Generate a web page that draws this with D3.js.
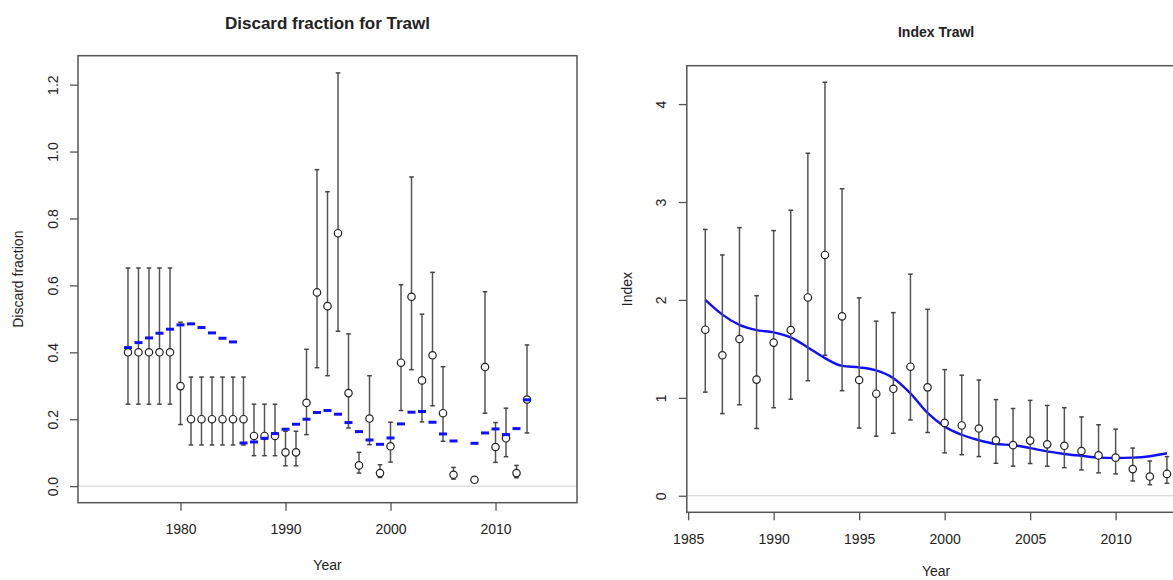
<!DOCTYPE html>
<html>
<head>
<meta charset="utf-8">
<script src="https://cdn.jsdelivr.net/npm/d3@7"></script>
<style>
  body { margin: 0; background: #fff; }
  text { font-family: "Liberation Sans", Arial, sans-serif; fill: #222; }
</style>
</head>
<body>
<svg id="canvas"></svg>
<script>
// ---- discard fraction data (left panel) ----
const discardYears = [
  1975, 1976, 1977, 1978, 1979, 1980, 1981, 1982, 1983, 1984, 1985, 1986, 1987,
  1988, 1989, 1990, 1991, 1992, 1993, 1994, 1995, 1996, 1997, 1998, 1999, 2000,
  2001, 2002, 2003, 2004, 2005, 2006, 2008, 2009, 2010, 2011, 2012, 2013,
];
const discardObs = [
  0.4, 0.4, 0.4, 0.4, 0.4, 0.299, 0.2, 0.2, 0.2, 0.2, 0.2, 0.2, 0.15,
  0.15, 0.15, 0.101, 0.101, 0.249, 0.579, 0.538, 0.756, 0.278, 0.062, 0.202, 0.039, 0.119,
  0.369, 0.566, 0.316, 0.391, 0.218, 0.034, 0.019, 0.356, 0.117, 0.143, 0.039, 0.259,
];
const discardLo = [
  0.245, 0.245, 0.245, 0.245, 0.245, 0.184, 0.123, 0.123, 0.123, 0.123, 0.123, 0.123, 0.091,
  0.091, 0.091, 0.061, 0.061, 0.154, 0.354, 0.33, 0.463, 0.174, 0.039, 0.124, 0.026, 0.072,
  0.226, 0.348, 0.192, 0.24, 0.134, 0.021, 0.013, 0.218, 0.071, 0.088, 0.025, 0.159,
];
const discardHi = [
  0.652, 0.652, 0.652, 0.652, 0.652, 0.49, 0.326, 0.326, 0.326, 0.326, 0.326, 0.326, 0.245,
  0.245, 0.245, 0.164, 0.164, 0.409, 0.946, 0.88, 1.235, 0.455, 0.101, 0.33, 0.064, 0.191,
  0.602, 0.924, 0.514, 0.639, 0.357, 0.056, 0.027, 0.581, 0.19, 0.233, 0.062, 0.422,
];
const discardExp = [
  0.414, 0.429, 0.443, 0.457, 0.469, 0.482, 0.485, 0.474, 0.458, 0.442, 0.431, 0.129, 0.132,
  0.143, 0.157, 0.17, 0.185, 0.2, 0.22, 0.226, 0.215, 0.19, 0.163, 0.138, 0.125, 0.144,
  0.186, 0.221, 0.223, 0.191, 0.156, 0.135, 0.128, 0.159, 0.171, 0.154, 0.172, 0.258,
];

// ---- index data (right panel) ----
const indexYears = [
  1986, 1987, 1988, 1989, 1990, 1991, 1992, 1993, 1994, 1995, 1996, 1997, 1998, 1999,
  2000, 2001, 2002, 2003, 2004, 2005, 2006, 2007, 2008, 2009, 2010, 2011, 2012, 2013,
];
const indexObs = [
  1.696, 1.435, 1.601, 1.186, 1.564, 1.692, 2.025, 2.459, 1.832, 1.182, 1.042, 1.092, 1.318, 1.107,
  0.744, 0.718, 0.687, 0.567, 0.517, 0.563, 0.525, 0.51, 0.457, 0.412, 0.389, 0.272, 0.196, 0.223,
];
const indexLo = [
  1.058, 0.839, 0.929, 0.687, 0.899, 0.986, 1.175, 1.435, 1.073, 0.691, 0.608, 0.638, 0.774, 0.646,
  0.438, 0.419, 0.4, 0.332, 0.302, 0.329, 0.302, 0.287, 0.264, 0.234, 0.223, 0.151, 0.113, 0.128,
];
const indexHi = [
  2.72, 2.459, 2.738, 2.043, 2.708, 2.916, 3.498, 4.223, 3.135, 2.021, 1.783, 1.87, 2.263, 1.904,
  1.288, 1.231, 1.182, 0.982, 0.891, 0.974, 0.922, 0.899, 0.805, 0.725, 0.68, 0.487, 0.355, 0.4,
];
const indexFit = [
  2.0, 1.85, 1.745, 1.692, 1.669, 1.617, 1.515, 1.405, 1.326, 1.311, 1.28, 1.201, 1.046, 0.846,
  0.706, 0.623, 0.567, 0.529, 0.517, 0.487, 0.453, 0.427, 0.408, 0.389, 0.385, 0.389, 0.404, 0.434,
];

const discardXTicks = [1980, 1990, 2000, 2010];
const discardYTicks = [0, 0.2, 0.4, 0.6, 0.8, 1.0, 1.2];
const indexXTicks = [1985, 1990, 1995, 2000, 2005, 2010];
const indexYTicks = [0, 1, 2, 3, 4];

const width = 1173;
const height = 580;

const canvas = d3.select("#canvas").attr("width", width).attr("height", height);

const makeRows = (years, obs, lo, hi, model) =>
  years.map((y, i) => ({ year: y, obs: obs[i], lo: lo[i], hi: hi[i], model: model[i] }));

// one R-style panel: box, axes, zero line, error bars, open circles
const drawPanel = (cfg) => {
  const g = canvas.append("g");
  const xScale = d3.scaleLinear().domain(cfg.xDomain).range([cfg.left, cfg.right]);
  const yScale = d3.scaleLinear().domain(cfg.yDomain).range([cfg.bottom, cfg.top]);
  const rows = cfg.rows;

  // light zero reference line
  g.append("line")
    .attr("x1", cfg.left)
    .attr("x2", cfg.right)
    .attr("y1", yScale(0))
    .attr("y2", yScale(0))
    .attr("stroke", "#d0d0d0")
    .attr("stroke-width", 1);

  if (cfg.fitLine) {
    const line = d3
      .line()
      .x((d) => xScale(d.year))
      .y((d) => yScale(d.model))
      .curve(d3.curveMonotoneX);
    g.append("path")
      .datum(rows)
      .attr("d", line)
      .attr("fill", "none")
      .attr("stroke", "#1010ff")
      .attr("stroke-width", 2.4);
  }

  const bars = g.selectAll(".bar").data(rows).enter().append("g").attr("class", "bar");
  bars
    .append("line")
    .attr("x1", (d) => xScale(d.year))
    .attr("x2", (d) => xScale(d.year))
    .attr("y1", (d) => yScale(d.lo))
    .attr("y2", (d) => yScale(d.hi))
    .attr("stroke", "#555")
    .attr("stroke-width", 1.5);
  ["lo", "hi"].forEach((k) => {
    bars
      .append("line")
      .attr("x1", (d) => xScale(d.year) - 2.3)
      .attr("x2", (d) => xScale(d.year) + 2.3)
      .attr("y1", (d) => yScale(d[k]))
      .attr("y2", (d) => yScale(d[k]))
      .attr("stroke", "#444")
      .attr("stroke-width", 1.5);
  });

  g.selectAll("circle")
    .data(rows)
    .enter()
    .append("circle")
    .attr("cx", (d) => xScale(d.year))
    .attr("cy", (d) => yScale(d.obs))
    .attr("r", 3.7)
    .attr("fill", "#fff")
    .attr("stroke", "#222")
    .attr("stroke-width", 1.2);

  if (cfg.dashes) {
    g.selectAll(".dash")
      .data(rows)
      .enter()
      .append("line")
      .attr("class", "dash")
      .attr("x1", (d) => xScale(d.year) - 4)
      .attr("x2", (d) => xScale(d.year) + 4)
      .attr("y1", (d) => yScale(d.model))
      .attr("y2", (d) => yScale(d.model))
      .attr("stroke", "#1010ff")
      .attr("stroke-width", 3);
  }

  // box
  g.append("rect")
    .attr("x", cfg.left)
    .attr("y", cfg.top)
    .attr("width", cfg.right - cfg.left)
    .attr("height", cfg.bottom - cfg.top)
    .attr("fill", "none")
    .attr("stroke", "#555")
    .attr("stroke-width", 1.5);

  const xAxis = d3.axisBottom(xScale).tickValues(cfg.xTicks).tickFormat(d3.format("d")).tickSize(8);
  const yAxis = d3.axisLeft(yScale).tickValues(cfg.yTicks).tickFormat(cfg.yFormat).tickSize(8);

  const gx = g.append("g").attr("transform", `translate(0, ${cfg.bottom})`).call(xAxis);
  const gy = g.append("g").attr("transform", `translate(${cfg.left}, 0)`).call(yAxis);
  [gx, gy].forEach((a) => {
    a.select(".domain").remove();
    a.selectAll(".tick line").attr("stroke", "#555").attr("stroke-width", 1.3);
    a.selectAll("text").style("font-size", "14px").attr("fill", "#222");
  });
  gx.selectAll("text").attr("y", 26.6).attr("dy", null).attr("dominant-baseline", "central");
  gy.selectAll("text")
    .attr("x", 0)
    .attr("dy", null)
    .attr("text-anchor", "middle")
    .attr("dominant-baseline", "central")
    .attr("transform", "translate(-25.5, 0) rotate(-90)");

  const cx = (cfg.left + cfg.right) / 2;
  const cy = (cfg.top + cfg.bottom) / 2;

  g.append("text")
    .attr("x", cx)
    .attr("y", cfg.titleY)
    .attr("text-anchor", "middle")
    .attr("dominant-baseline", "central")
    .style("font-size", cfg.titleSize)
    .style("font-weight", "bold")
    .text(cfg.title);

  g.append("text")
    .attr("x", cx)
    .attr("y", cfg.xLabelY)
    .attr("text-anchor", "middle")
    .attr("dominant-baseline", "central")
    .style("font-size", "14px")
    .text("Year");

  g.append("text")
    .attr("transform", `translate(${cfg.yLabelX}, ${cy}) rotate(-90)`)
    .attr("text-anchor", "middle")
    .attr("dominant-baseline", "central")
    .style("font-size", "14px")
    .text(cfg.yLabel);
};

drawPanel({
  rows: makeRows(discardYears, discardObs, discardLo, discardHi, discardExp),
  xDomain: [1970.24, 2017.76],
  yDomain: [-0.0495, 1.2865],
  left: 78,
  right: 577,
  top: 55.7,
  bottom: 502.7,
  xTicks: discardXTicks,
  yTicks: discardYTicks,
  yFormat: d3.format(".1f"),
  dashes: true,
  fitLine: false,
  title: "Discard fraction for Trawl",
  titleSize: "17px",
  titleY: 23.3,
  xLabelY: 564.8,
  yLabel: "Discard fraction",
  yLabelX: 18,
});

drawPanel({
  rows: makeRows(indexYears, indexObs, indexLo, indexHi, indexFit),
  xDomain: [1984.92, 2014.08],
  yDomain: [-0.169, 4.392],
  left: 686.8,
  right: 1185.4,
  top: 65.7,
  bottom: 512.3,
  xTicks: indexXTicks,
  yTicks: indexYTicks,
  yFormat: d3.format("d"),
  dashes: false,
  fitLine: true,
  title: "Index Trawl",
  titleSize: "14px",
  titleY: 31.5,
  xLabelY: 571,
  yLabel: "Index",
  yLabelX: 627.4,
});
</script>
</body>
</html>
